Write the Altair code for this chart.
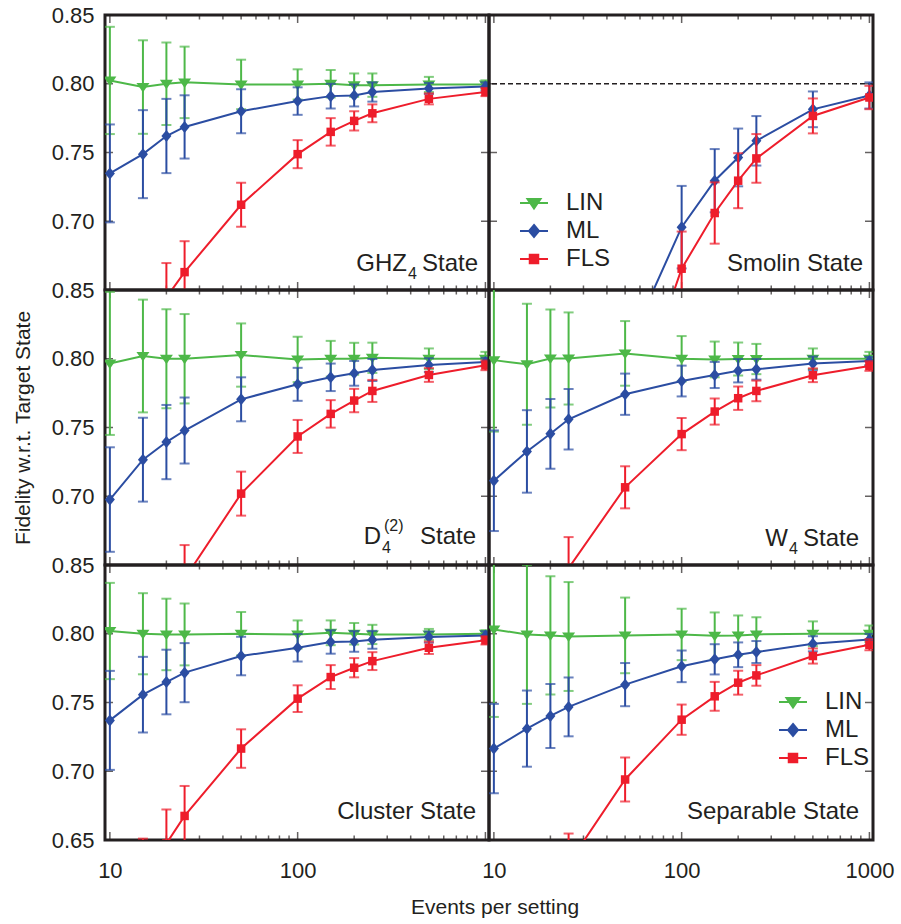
import altair as alt
import pandas as pd

FONT = "Liberation Sans"
DARK = "#231F20"
NaN = float("nan")

METHODS = ["LIN", "ML", "FLS"]
COLORS = {"LIN": "#4DB848", "ML": "#2B4DA2", "FLS": "#EE1D2B"}

# events per setting
N = [10, 15, 20, 25, 50, 100, 150, 200, 250, 500, 1000]
N_SMOLIN = [50, 100, 150, 200, 250, 500, 1000]

# ---------------- GHZ4 ----------------
GHZ_LIN = [0.8024, 0.7976, 0.800, 0.801, 0.7995, 0.7995, 0.800, 0.799, 0.799, 0.7995, 0.7995]
GHZ_LIN_ERR = [0.039, 0.034, 0.030, 0.026, 0.018, 0.011, 0.010, 0.0085, 0.0085, 0.0055, 0.003]
GHZ_ML = [0.7348, 0.7488, 0.762, 0.7686, 0.780, 0.7874, 0.791, 0.7915, 0.794, 0.7966, 0.798]
GHZ_ML_ERR = [0.0356, 0.032, 0.027, 0.023, 0.016, 0.010, 0.009, 0.008, 0.007, 0.004, 0.003]
GHZ_FLS = [NaN, NaN, 0.6446, 0.663, 0.712, 0.7488, 0.765, 0.773, 0.7785, 0.789, 0.794]
GHZ_FLS_ERR = [NaN, NaN, 0.025, 0.0225, 0.016, 0.0102, 0.010, 0.007, 0.0065, 0.004, 0.003]

# ---------------- Smolin ----------------
SM_ML = [0.604, 0.6957, 0.7295, 0.7464, 0.7585, 0.7814, 0.7915]
SM_ML_ERR = [0.035, 0.030, 0.023, 0.021, 0.018, 0.013, 0.0095]
SM_FLS = [0.546, 0.6655, 0.706, 0.7295, 0.7457, 0.7766, 0.790]
SM_FLS_ERR = [0.035, 0.027, 0.0223, 0.020, 0.0177, 0.0127, 0.0085]

# ---------------- D4(2) ----------------
D_LIN = [0.7966, 0.802, 0.800, 0.800, 0.8027, 0.7995, 0.800, 0.800, 0.8007, 0.800, 0.800]
D_LIN_ERR = [0.052, 0.041, 0.036, 0.0325, 0.023, 0.0165, 0.013, 0.0116, 0.011, 0.0075, 0.005]
D_ML = [0.6976, 0.7266, 0.7394, 0.7478, 0.7705, 0.7814, 0.7865, 0.7894, 0.7918, 0.7954, 0.7976]
D_ML_ERR = [0.038, 0.0305, 0.027, 0.024, 0.016, 0.012, 0.010, 0.009, 0.008, 0.005, 0.003]
D_FLS = [NaN, NaN, NaN, 0.640, 0.7019, 0.7435, 0.7599, 0.7696, 0.7766, 0.7882, 0.7952]
D_FLS_ERR = [NaN, NaN, NaN, 0.0245, 0.016, 0.012, 0.010, 0.0085, 0.008, 0.005, 0.0035]

# ---------------- W4 ----------------
W_LIN = [0.799, 0.796, 0.8002, 0.8002, 0.8039, 0.800, 0.7995, 0.7998, 0.7998, 0.800, 0.800]
W_LIN_ERR = [0.052, 0.044, 0.0357, 0.0335, 0.0235, 0.0165, 0.013, 0.012, 0.011, 0.0075, 0.005]
W_ML = [0.7113, 0.7326, 0.7454, 0.756, 0.7742, 0.7838, 0.7882, 0.7913, 0.7923, 0.7966, 0.7983]
W_ML_ERR = [0.0366, 0.030, 0.0254, 0.022, 0.015, 0.0112, 0.0095, 0.0085, 0.0075, 0.005, 0.003]
W_FLS = [NaN, NaN, NaN, 0.6477, 0.7065, 0.7452, 0.7616, 0.7713, 0.7766, 0.788, 0.7947]
W_FLS_ERR = [NaN, NaN, NaN, 0.0226, 0.0153, 0.0117, 0.0095, 0.0085, 0.0075, 0.005, 0.0035]

# ---------------- Cluster ----------------
C_LIN = [0.802, 0.800, 0.7995, 0.7995, 0.800, 0.7995, 0.8007, 0.800, 0.7995, 0.7995, 0.800]
C_LIN_ERR = [0.035, 0.0295, 0.026, 0.0225, 0.0158, 0.0102, 0.009, 0.0078, 0.007, 0.004, 0.0025]
C_ML = [0.737, 0.7557, 0.7649, 0.7717, 0.7838, 0.7898, 0.794, 0.7944, 0.7956, 0.7976, 0.7988]
C_ML_ERR = [0.036, 0.0275, 0.0235, 0.0215, 0.014, 0.010, 0.0085, 0.0075, 0.0065, 0.004, 0.003]
C_FLS = [NaN, 0.622, 0.6474, 0.6675, 0.7165, 0.7528, 0.7685, 0.7753, 0.7801, 0.7898, 0.7952]
C_FLS_ERR = [NaN, 0.029, 0.0248, 0.0218, 0.014, 0.0097, 0.0087, 0.007, 0.0065, 0.0045, 0.003]

# ---------------- Separable ----------------
S_LIN = [0.8031, 0.7995, 0.7988, 0.798, 0.7988, 0.7995, 0.7985, 0.7988, 0.7995, 0.800, 0.800]
S_LIN_ERR = [0.0636, 0.0505, 0.043, 0.0396, 0.0275, 0.0187, 0.017, 0.0145, 0.0125, 0.009, 0.006]
S_ML = [0.7165, 0.731, 0.7402, 0.7468, 0.763, 0.7763, 0.7814, 0.7847, 0.7867, 0.7927, 0.7959]
S_ML_ERR = [0.0325, 0.0277, 0.0233, 0.0214, 0.0157, 0.0115, 0.011, 0.009, 0.008, 0.0055, 0.004]
S_FLS = [NaN, NaN, NaN, 0.6329, 0.694, 0.7375, 0.7545, 0.7644, 0.7697, 0.7838, 0.792]
S_FLS_ERR = [NaN, NaN, NaN, 0.0218, 0.016, 0.011, 0.0105, 0.0087, 0.0075, 0.0055, 0.004]

# axis ticks / labels
X_TICKS = [10, 20, 30, 40, 50, 60, 70, 80, 90, 100, 200, 300, 400, 500, 600, 700, 800, 900, 1000]
X_MAJOR = [10, 100, 1000]
Y_TICKS = [0.65, 0.70, 0.75, 0.80, 0.85]
Y_TITLE = "Fidelity w.r.t. Target State"
X_TITLE = "Events per setting"

W, H = 384, 275
xs = alt.Scale(type="log", domain=[9.42, 1045], nice=False)
ys = alt.Scale(domain=[0.65, 0.85], nice=False, zero=False)

MARK_PATHS = {
    "LIN": "M-1.3,-0.8L1.3,-0.8L0,1.1Z",
    "ML": "M0,-1.2L1,0L0,1.2L-1,0Z",
    "FLS": "M-0.85,-0.85H0.85V0.85H-0.85Z",
}
LEG_PATHS = ["M-2.8,0H2.8" + MARK_PATHS[m] for m in METHODS]


def make_df(n, series):
    rows = []
    for m in METHODS:
        if m not in series:
            continue
        vals, errs = series[m]
        for x, v, e in zip(n, vals, errs):
            if v == v:
                rows.append({"N": x, "method": m, "val": v, "lo": v - e, "hi": v + e})
    return pd.DataFrame(rows)


def text_layer(s, x, y, size, align):
    return alt.Chart(pd.DataFrame({"s": [s]})).mark_text(
        align=align, baseline="alphabetic", fontSize=size, font=FONT, color=DARK
    ).encode(x=alt.value(x), y=alt.value(y), text="s:N")


def panel(df, row, col, labels, legend_pos=None, dashed=False):
    # layers other than the axis-carrying one: leave the axis unspecified where the
    # panel shows an axis (so the explicit one wins), disable it everywhere otherwise
    kx = {} if row == 2 else {"axis": None}
    ky = {} if col == 0 else {"axis": None}

    if row == 2:
        lab = "datum.value > 500 ? '' : datum.label" if col == 0 else "datum.label"
        xaxis = alt.Axis(values=X_MAJOR, format="d", labelExpr=lab, ticks=False,
                         domain=False, grid=False, labelFontSize=22, labelFont=FONT, orient="bottom",
                         labelColor=DARK, labelPadding=20, labelFlush=False, title=None)
    else:
        xaxis = None
    if col == 0:
        lab = "datum.value < 0.66 ? '' : datum.label" if row < 2 else "datum.label"
        yaxis = alt.Axis(values=Y_TICKS, format=".2f", labelExpr=lab, ticks=False, orient="left",
                         domain=False, grid=False, labelFontSize=22, labelFont=FONT,
                         labelColor=DARK, labelPadding=11, labelFlush=False,
                         title=Y_TITLE if row == 1 else None, titleFontSize=21, titleFont=FONT,
                         titleFontWeight="normal", titleColor=DARK, titlePadding=18)
    else:
        yaxis = None

    layers = []
    # frame ticks (inward)
    xt = pd.DataFrame({"t": X_TICKS, "len": [16 if t in X_MAJOR else 9 for t in X_TICKS]})
    yt = pd.DataFrame({"t": Y_TICKS, "len": [16] * len(Y_TICKS)})
    for i, yv in enumerate([0, H]):
        xenc = alt.X("t:Q", scale=xs, axis=xaxis) if i == 0 else alt.X("t:Q", scale=xs, **kx)
        layers.append(alt.Chart(xt).mark_tick(clip=True, orient="vertical", thickness=1.5, color=DARK).encode(
            x=xenc, y=alt.value(yv), size=alt.Size("len:Q", scale=None)))
    for i, xv in enumerate([0, W]):
        yenc = alt.Y("t:Q", scale=ys, axis=yaxis) if i == 0 else alt.Y("t:Q", scale=ys, **ky)
        layers.append(alt.Chart(yt).mark_tick(clip=True, orient="horizontal", thickness=1.5, color=DARK).encode(
            y=yenc, x=alt.value(xv), size=alt.Size("len:Q", scale=None)))

    if dashed:
        layers.append(
            alt.Chart(pd.DataFrame({"ref": [0.80]})).mark_rule(
                strokeDash=[5, 3], strokeWidth=1.5, color=DARK
            ).encode(y=alt.Y("ref:Q", scale=ys, **ky))
        )
    X = alt.X("N:Q", scale=xs, **kx)
    for m in METHODS:
        sub = df[df.method == m]
        if sub.empty:
            continue
        c = COLORS[m]
        base = alt.Chart(sub)
        layers.append(base.mark_rule(clip=True, strokeWidth=2, color=c).encode(
            x=X, y=alt.Y("lo:Q", scale=ys, **ky), y2="hi:Q"))
        layers.append(base.transform_fold(["lo", "hi"], as_=["end", "v"]).mark_tick(
            clip=True, orient="horizontal", size=10, thickness=2, color=c
        ).encode(x=X, y=alt.Y("v:Q", scale=ys, **ky)))
        layers.append(base.mark_line(clip=True, strokeWidth=2, color=c).encode(
            x=X, y=alt.Y("val:Q", scale=ys, **ky)))
        layers.append(base.mark_point(
            clip=True, filled=True, opacity=1, size=100, shape=MARK_PATHS[m], color=c
        ).encode(x=X, y=alt.Y("val:Q", scale=ys, **ky)))

    for (s, x, y, size, align) in labels:
        layers.append(text_layer(s, x, y, size, align))

    if legend_pos is not None:
        lx, ly = legend_pos
        leg = alt.Legend(orient="none", legendX=lx, legendY=ly, title=None, labelFontSize=24,
                         labelFont=FONT, labelColor=DARK, symbolSize=100, symbolStrokeWidth=2,
                         labelOffset=20, rowPadding=4, padding=0, symbolOpacity=1)
        layers.append(alt.Chart(df).transform_filter("datum.N < 0").mark_point(
            filled=True, strokeWidth=2, opacity=1, size=100
        ).encode(
            x=alt.X("N:Q", scale=xs, **kx),
            y=alt.Y("val:Q", scale=ys, **ky),
            fill=alt.Fill("method:N", scale=alt.Scale(domain=METHODS, range=[COLORS[m] for m in METHODS]), legend=leg),
            stroke=alt.Stroke("method:N", scale=alt.Scale(domain=METHODS, range=[COLORS[m] for m in METHODS]), legend=leg),
            shape=alt.Shape("method:N", scale=alt.Scale(domain=METHODS, range=LEG_PATHS), legend=leg),
        ))
    return alt.layer(*layers).properties(width=W, height=H)


p_ghz = panel(make_df(N, {"LIN": (GHZ_LIN, GHZ_LIN_ERR), "ML": (GHZ_ML, GHZ_ML_ERR), "FLS": (GHZ_FLS, GHZ_FLS_ERR)}), 0, 0,
              [("GHZ", W - 82, H - 19, 24, "right"), ("4", W - 81, H - 11, 16, "left"), ("State", W - 11, H - 19, 24, "right")])
p_sm = panel(make_df(N_SMOLIN, {"ML": (SM_ML, SM_ML_ERR), "FLS": (SM_FLS, SM_FLS_ERR)}), 0, 1,
             [("Smolin State", W - 10, H - 19, 24, "right")], legend_pos=(33, 176), dashed=True)
p_d = panel(make_df(N, {"LIN": (D_LIN, D_LIN_ERR), "ML": (D_ML, D_ML_ERR), "FLS": (D_FLS, D_FLS_ERR)}), 1, 0,
            [("D", W - 108, H - 21, 24, "right"), ("4", W - 107, H - 12, 16, "left"),
             ("(2)", W - 105, H - 34, 16, "left"), ("State", W - 13, H - 21, 24, "right")])
p_w = panel(make_df(N, {"LIN": (W_LIN, W_LIN_ERR), "ML": (W_ML, W_ML_ERR), "FLS": (W_FLS, W_FLS_ERR)}), 1, 1,
            [("W", W - 85, H - 19, 24, "right"), ("4", W - 84, H - 11, 16, "left"), ("State", W - 14, H - 19, 24, "right")])
p_c = panel(make_df(N, {"LIN": (C_LIN, C_LIN_ERR), "ML": (C_ML, C_ML_ERR), "FLS": (C_FLS, C_FLS_ERR)}), 2, 0,
            [("Cluster State", W - 13, H - 21, 24, "right")])
p_s = panel(make_df(N, {"LIN": (S_LIN, S_LIN_ERR), "ML": (S_ML, S_ML_ERR), "FLS": (S_FLS, S_FLS_ERR)}), 2, 1,
            [("Separable State", W - 14, H - 21, 24, "right")], legend_pos=(292, 125))

RES = dict(fill="independent", stroke="independent", shape="independent")
chart = alt.concat(p_ghz, p_sm, p_d, p_w, p_c, p_s, columns=2, spacing=0, bounds="flush").resolve_scale(
    **RES).resolve_legend(**RES).properties(
    title=alt.TitleParams(X_TITLE, orient="bottom", anchor="middle", fontSize=21, font=FONT,
                          fontWeight="normal", color=DARK, offset=14, dx=42),
    padding={"left": 10, "top": 2, "right": 0, "bottom": 4},
    background="white",
).configure(font=FONT).configure_view(stroke=DARK, strokeWidth=3)

chart.save("out.html", embed_options={"renderer": "svg", "actions": False})
